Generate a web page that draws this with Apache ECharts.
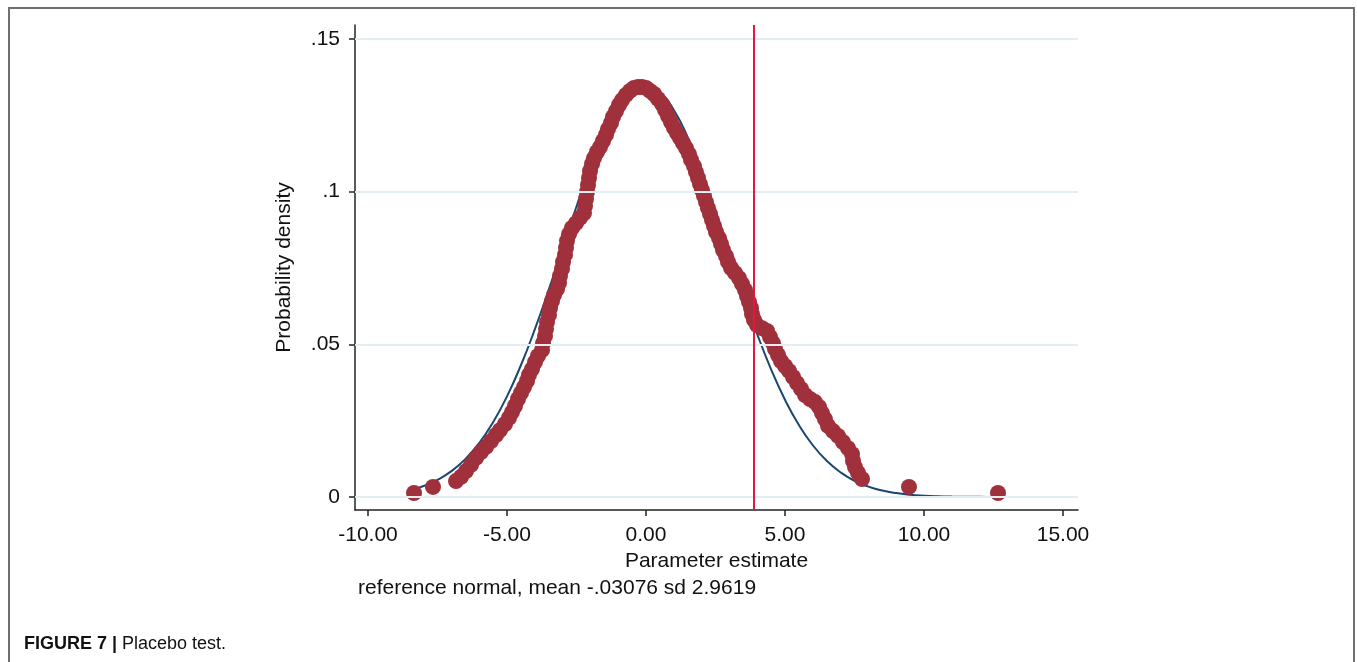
<!DOCTYPE html>
<html>
<head>
<meta charset="utf-8">
<title>Placebo test</title>
<script src="https://cdn.jsdelivr.net/npm/echarts@6/dist/echarts.min.js"></script>
<style>
  html, body { margin: 0; padding: 0; background: #fff; }
  #chart { width: 1357px; height: 662px; }
</style>
</head>
<body>
<div id="chart"></div>
<script>
// placebo estimates (x) and their kernel density (y)
var estimates = [
  -8.345, -7.662, -6.835, -6.655, -6.475, -6.295, -6.115, -5.935, -5.755, -5.576,
  -5.396, -5.252, -5.072, -4.928, -4.820, -4.712, -4.604, -4.496, -4.388, -4.281,
  -4.209, -4.101, -3.993, -3.885, -3.741, -3.705, -3.633, -3.597, -3.561, -3.489,
  -3.453, -3.381, -3.309, -3.201, -3.129, -3.094, -3.022, -2.986, -2.914, -2.878,
  -2.842, -2.770, -2.662, -2.518, -2.374, -2.230, -2.194, -2.158, -2.122, -2.086,
  -2.050, -2.014, -1.942, -1.871, -1.763, -1.655, -1.547, -1.439, -1.367, -1.259,
  -1.187, -1.079, -0.971, -0.863, -0.719, -0.576, -0.432, -0.288, -0.144, 0.000,
  0.144, 0.288, 0.432, 0.576, 0.683, 0.791, 0.899, 1.007, 1.115, 1.223,
  1.331, 1.439, 1.547, 1.619, 1.727, 1.799, 1.871, 1.942, 2.014, 2.086,
  2.158, 2.230, 2.302, 2.374, 2.446, 2.518, 2.626, 2.698, 2.770, 2.878,
  2.950, 3.058, 3.201, 3.345, 3.453, 3.561, 3.633, 3.705, 3.777, 3.813,
  3.885, 3.993, 4.173, 4.353, 4.460, 4.568, 4.640, 4.748, 4.856, 5.000,
  5.144, 5.288, 5.432, 5.576, 5.719, 5.899, 6.079, 6.223, 6.331, 6.439,
  6.547, 6.727, 6.906, 7.086, 7.266, 7.410, 7.446, 7.518, 7.626, 7.770,
  9.460, 12.662
];
var densities = [
  0.0013, 0.0033, 0.0052, 0.0066, 0.0085, 0.0105, 0.0128, 0.0147, 0.0164, 0.0183,
  0.0203, 0.0219, 0.0239, 0.0259, 0.0278, 0.0298, 0.0321, 0.0341, 0.0360, 0.0380,
  0.0400, 0.0419, 0.0442, 0.0462, 0.0481, 0.0504, 0.0527, 0.0550, 0.0573, 0.0596,
  0.0619, 0.0642, 0.0662, 0.0681, 0.0701, 0.0724, 0.0747, 0.0770, 0.0793, 0.0816,
  0.0839, 0.0861, 0.0881, 0.0897, 0.0914, 0.0930, 0.0953, 0.0976, 0.0999, 0.1022,
  0.1045, 0.1068, 0.1091, 0.1110, 0.1130, 0.1146, 0.1166, 0.1186, 0.1205, 0.1225,
  0.1245, 0.1264, 0.1284, 0.1300, 0.1317, 0.1330, 0.1340, 0.1343, 0.1343, 0.1340,
  0.1330, 0.1320, 0.1304, 0.1287, 0.1268, 0.1248, 0.1228, 0.1209, 0.1192, 0.1176,
  0.1159, 0.1143, 0.1123, 0.1104, 0.1084, 0.1064, 0.1045, 0.1025, 0.1005, 0.0986,
  0.0966, 0.0946, 0.0927, 0.0907, 0.0888, 0.0868, 0.0848, 0.0829, 0.0809, 0.0789,
  0.0770, 0.0750, 0.0734, 0.0717, 0.0698, 0.0678, 0.0658, 0.0639, 0.0619, 0.0599,
  0.0580, 0.0563, 0.0553, 0.0544, 0.0524, 0.0504, 0.0485, 0.0465, 0.0445, 0.0429,
  0.0413, 0.0393, 0.0373, 0.0354, 0.0334, 0.0321, 0.0311, 0.0295, 0.0275, 0.0255,
  0.0233, 0.0216, 0.0200, 0.0180, 0.0160, 0.0141, 0.0118, 0.0098, 0.0079, 0.0059,
  0.0033, 0.0013
];

// reference normal curve (mean -.03076, sd 2.9619), values read at these x
var normalX = [
  -8.35, -8, -7.5, -7, -6.5, -6, -5.5, -5, -4.5, -4, -3.5, -3, -2.5, -2, -1.5, -1, -0.5,
  0, 0.5, 1, 1.5, 2, 2.5, 3, 3.5, 4, 4.5, 5, 5.5, 6, 6.5, 7, 7.5, 8, 8.5, 9, 9.5,
  10, 10.5, 11, 11.5, 12, 12.5, 12.66
];
var normalY = [
  0.00261, 0.00361, 0.00560, 0.00846, 0.01240, 0.01768, 0.02449, 0.03297, 0.04315, 0.05488,
  0.06784, 0.08150, 0.09516, 0.10799, 0.11910, 0.12767, 0.13301,
  0.13468, 0.13254, 0.12678, 0.11785, 0.10648, 0.09350, 0.07980, 0.06619, 0.05336,
  0.04180, 0.03183, 0.02356, 0.01695, 0.01185, 0.00805, 0.00532, 0.00341, 0.00213,
  0.00129, 0.00076, 0.00044, 0.00024, 0.00013, 0.00007, 0.00004, 0.00002, 0.00001
];

var observedEstimate = 3.86;

var xTicks = [-10, -5, 0, 5, 10, 15];
var yTicks = [0, 0.05, 0.1, 0.15];
var yTickLabels = ['0', '.05', '.1', '.15'];

var font = '"Liberation Sans", Arial, Helvetica, sans-serif';

var dots = estimates.map(function (x, i) { return [x, densities[i]]; });
var normalLine = normalX.map(function (x, i) { return [x, normalY[i]]; });

var chart = echarts.init(document.getElementById('chart'));
var option = {
  backgroundColor: '#fff',
  animation: false,
  textStyle: { fontFamily: font },
  grid: { left: 355, right: 279, top: 25, bottom: 152, containLabel: false },
  xAxis: {
    type: 'value',
    min: -10.468,
    max: 15.54,
    name: 'Parameter estimate',
    nameLocation: 'middle',
    nameGap: 38,
    nameTextStyle: { fontSize: 21, color: '#111', fontFamily: font },
    axisLine: { show: true, onZero: false, lineStyle: { color: '#222', width: 1.5 } },
    axisTick: { show: true, length: 6, customValues: xTicks, lineStyle: { color: '#222', width: 1.5 } },
    axisLabel: {
      customValues: xTicks,
      margin: 15,
      fontSize: 21,
      color: '#111',
      fontFamily: font,
      formatter: function (v) { return v.toFixed(2); }
    },
    splitLine: { show: false }
  },
  yAxis: {
    type: 'value',
    min: -0.00426,
    max: 0.1546,
    name: 'Probability density',
    nameLocation: 'middle',
    nameGap: 60,
    nameRotate: 90,
    nameTextStyle: { fontSize: 21, color: '#111', fontFamily: font },
    axisLine: { show: true, onZero: false, lineStyle: { color: '#222', width: 1.5 } },
    axisTick: { show: true, length: 6, customValues: yTicks, lineStyle: { color: '#222', width: 1.5 } },
    axisLabel: {
      customValues: yTicks,
      margin: 15,
      fontSize: 21,
      color: '#111',
      fontFamily: font,
      formatter: function (v) {
        var best = 0;
        for (var i = 1; i < yTicks.length; i++) {
          if (Math.abs(yTicks[i] - v) < Math.abs(yTicks[best] - v)) best = i;
        }
        return yTickLabels[best];
      }
    },
    splitLine: { show: false }
  },
  graphic: [
    {
      type: 'rect',
      shape: { x: 9, y: 8, width: 1345, height: 720 },
      style: { fill: null, stroke: '#707070', lineWidth: 2 },
      silent: true
    },
    {
      type: 'text',
      left: 358,
      top: 578,
      style: {
        text: 'reference normal, mean -.03076 sd 2.9619',
        font: '21px ' + font,
        fill: '#111'
      }
    },
    {
      type: 'text',
      left: 24,
      top: 635,
      style: {
        text: '{b|FIGURE 7 |} Placebo test.',
        font: '18px ' + font,
        fill: '#111',
        rich: {
          b: { fontWeight: 'bold', fontSize: 18, fontFamily: font, fill: '#111' }
        }
      }
    }
  ],
  series: [
    {
      // horizontal grid lines
      type: 'line',
      data: [],
      silent: true,
      z: 1,
      markLine: {
        silent: true,
        symbol: 'none',
        label: { show: false },
        lineStyle: { color: '#e3eef2', width: 2, type: 'solid' },
        data: yTicks.map(function (v) { return { yAxis: v }; })
      }
    },
    {
      name: 'normal',
      type: 'line',
      data: normalLine,
      smooth: true,
      showSymbol: false,
      z: 2,
      lineStyle: { color: '#1a476f', width: 2 }
    },
    {
      name: 'density',
      type: 'scatter',
      data: dots,
      symbol: 'circle',
      symbolSize: 16,
      z: 3,
      itemStyle: { color: '#a0303b', opacity: 1 }
    },
    {
      type: 'line',
      data: [],
      silent: true,
      z: 4,
      markLine: {
        silent: true,
        symbol: 'none',
        label: { show: false },
        lineStyle: { color: '#e5173f', width: 2, type: 'solid' },
        data: [{ xAxis: observedEstimate }]
      }
    }
  ]
};
chart.setOption(option);
</script>
</body>
</html>
